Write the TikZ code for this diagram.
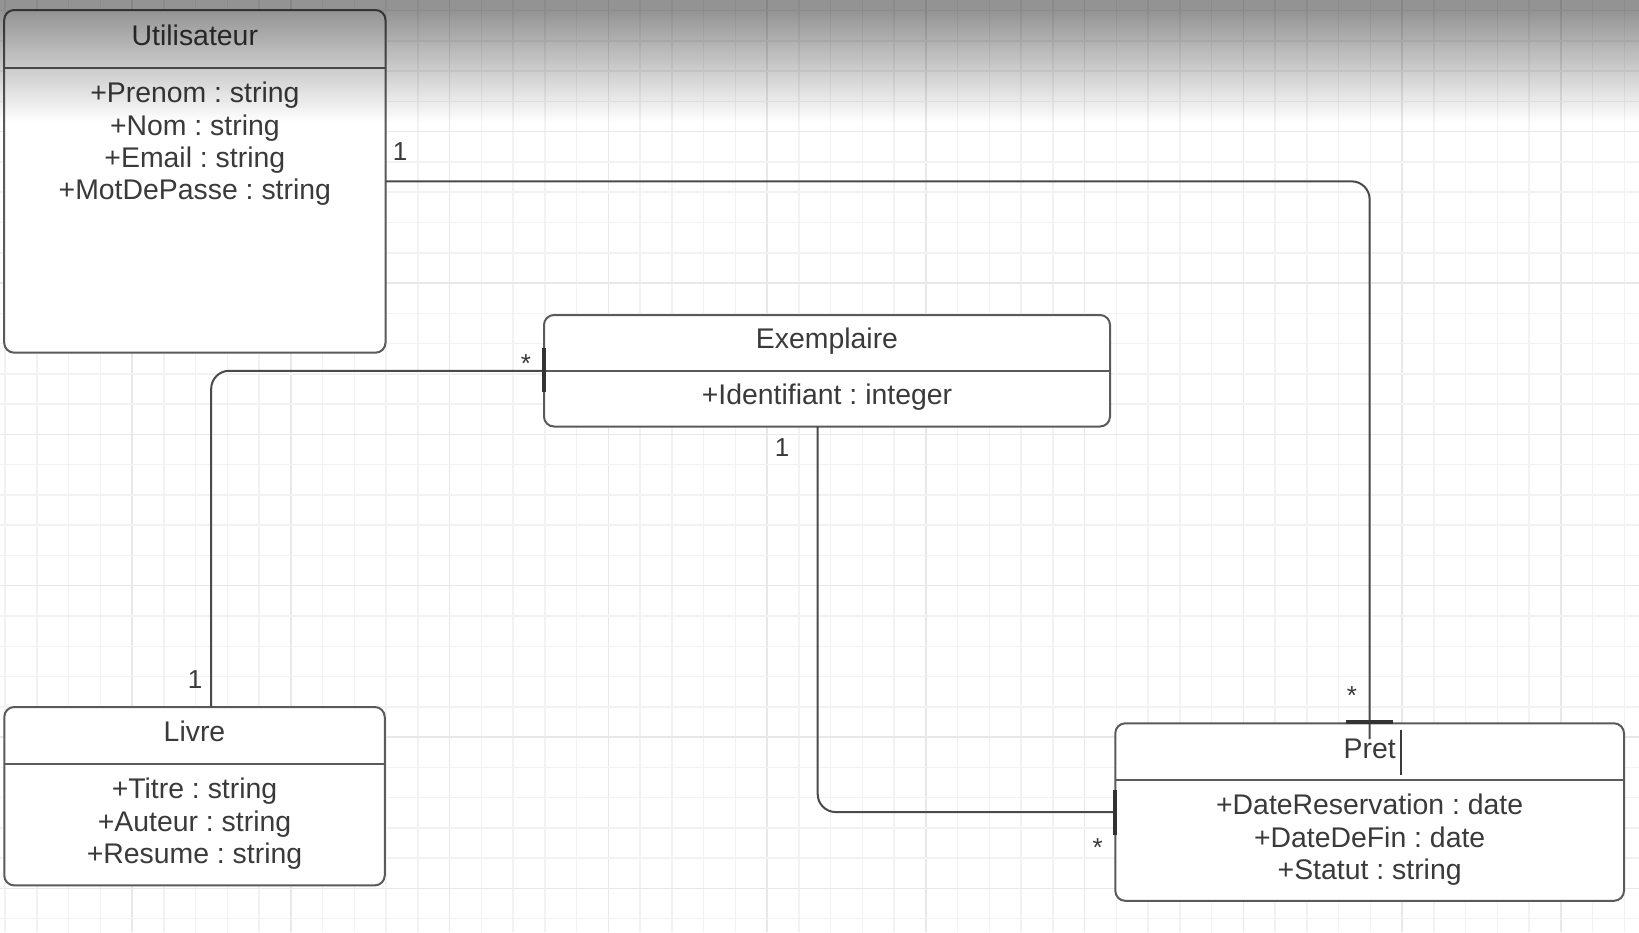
\documentclass[tikz,border=0pt]{standalone}
\usepackage{fontspec}
\setmainfont{Liberation Sans}
\frenchspacing
\definecolor{txt}{HTML}{3A3A3A}
\definecolor{edge}{HTML}{5A5A5A}
\definecolor{conn}{HTML}{4A4A4A}
\definecolor{gridminor}{HTML}{F2F2F2}
\definecolor{gridmajor}{HTML}{E8E8E8}
\tikzset{
  umlbox/.style={draw=edge, line width=2pt, fill=white, rounded corners=10pt, inner sep=0pt, outer sep=0pt},
  divider/.style={draw=edge, line width=2pt},
  cls/.style={text=txt, font=\fontsize{28.4}{34}\selectfont, anchor=base, inner sep=0pt},
  mult/.style={text=txt, font=\fontsize{26}{30}\selectfont, anchor=base, inner sep=0pt},
  assoc/.style={draw=conn, line width=2pt, rounded corners=18pt},
  endbar/.style={draw=black!80, line width=3.5pt},
}
\begin{document}
\begin{tikzpicture}[x=1pt,y=-1pt]
\useasboundingbox (0,0) rectangle (1639,932);
\fill[white] (0,0) rectangle (1639,932);
% grid
\foreach \k in {0,...,51}{
  \pgfmathtruncatemacro\m{mod(\k,5)}
  \ifnum\m=4 \def\gc{gridmajor}\else\def\gc{gridminor}\fi
  \draw[\gc, line width=1.5pt] ({5.05+31.75*\k},0) -- ({5.05+31.75*\k},932);
}
\foreach \k in {0,...,30}{
  \pgfmathtruncatemacro\m{mod(\k,5)}
  \ifnum\m=4 \def\gc{gridmajor}\else\def\gc{gridminor}\fi
  \draw[\gc, line width=1.5pt] (0,{10.6+30.27*\k}) -- (1639,{10.6+30.27*\k});
}
% boxes
\node[umlbox, minimum width=381.3pt, minimum height=342.7pt] (util) at (194.85,181.35) {};
\node[umlbox, minimum width=566pt, minimum height=111.5pt] (exem) at (827,370.75) {};
\node[umlbox, minimum width=380.5pt, minimum height=178.4pt] (livre) at (194.5,796.2) {};
\node[umlbox, minimum width=508.7pt, minimum height=177.5pt] (pret) at (1369.65,812.05) {};
\draw[divider] (4.2,68.3) -- (385.5,68.3);
\draw[divider] (544,370.5) -- (1110,370.5);
\draw[divider] (4.3,764.3) -- (384.7,764.3);
\draw[divider] (1115.3,779.5) -- (1624,779.5);
% texts
\node[cls] (utilT) at (194.85,45.5) {Utilisateur};
\node[cls] (utilA1) at (194.85,102.5) {+Prenom : string};
\node[cls] (utilA2) at (194.85,135.5) {+Nom : string};
\node[cls] (utilA3) at (194.85,167) {+Email : string};
\node[cls] (utilA4) at (194.85,199.5) {+MotDePasse : string};
\node[cls] (exemT) at (827,348) {Exemplaire};
\node[cls] (exemA1) at (827,404.5) {+Identifiant : integer};
\node[cls] (livreT) at (194.5,741.5) {Livre};
\node[cls] (livreA1) at (194.5,798.5) {+Titre : string};
\node[cls] (livreA2) at (194.5,831.5) {+Auteur : string};
\node[cls] (livreA3) at (194.5,863.5) {+Resume : string};
\node[cls] (pretT) at (1369.65,758) {Pret};
\node[cls] (pretA1) at (1369.65,814.5) {+DateReservation : date};
\node[cls] (pretA2) at (1369.65,847.5) {+DateDeFin : date};
\node[cls] (pretA3) at (1369.65,879.5) {+Statut : string};
% connectors
\coordinate (p1end) at (1369.65,739);
\draw[assoc] (util.east) -| (p1end);
\draw[assoc] (exem.west) -| ([xshift=16.7pt]livre.north);
\draw[assoc] ([xshift=-9.3pt]exem.south) |- (pret.west);
\draw[endbar] (544,348) -- (544,392);
\draw[endbar] (1345.8,722) -- (1393.2,722);
\draw[endbar] (1115,790) -- (1115,835);
% multiplicities
\node[mult] (m1) at (400,160.8) {1};
\node[mult] (m2) at (526,372.4) {*};
\node[mult] (m3) at (195,688) {1};
\node[mult] (m4) at (782,456) {1};
\node[mult] (m5) at (1352,704) {*};
\node[mult] (m6) at (1097.7,856.8) {*};
% text cursor
\draw[txt, line width=1.5pt] (1400.8,730) -- (1400.8,775);
% top shadow
\foreach \i in {0,...,122}{
  \pgfmathsetmacro\op{\i<10 ? 0.424 : 0.424*(122.5-\i)/113}
  \fill[black, fill opacity=\op] (0,\i) rectangle (1639,\i+1);
}
\end{tikzpicture}
\end{document}
